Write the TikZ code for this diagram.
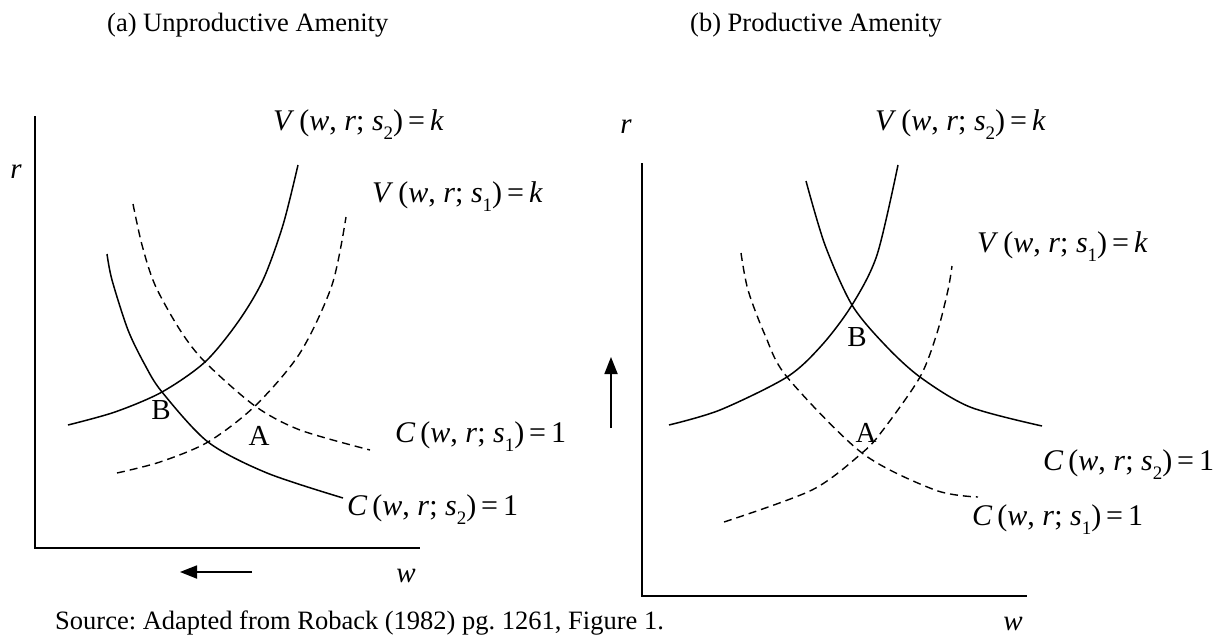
\documentclass[tikz,border=0pt]{standalone}
\usepackage{fontspec}
\setmainfont{Liberation Serif}
\usetikzlibrary{arrows.meta}
\frenchspacing
\newcommand{\fnlab}[3]{\textit{#1}\,(\textit{w}, \textit{r}; \textit{s}\raisebox{-0.3em}{\fontsize{19}{20}\selectfont #2})\,=\,#3}

\begin{document}
\begin{tikzpicture}[x=1pt,y=-1pt,>={Triangle[length=17pt,width=13pt]},
  axisline/.style={line width=1.8pt},
  curve/.style={line width=1.5pt},
  dcurve/.style={line width=1.4pt,dash pattern=on 8pt off 5pt},
  shiftarrow/.style={line width=1.8pt,->},
  eqlab/.style={anchor=west,inner sep=0pt,font=\fontsize{30}{32}\selectfont},
  ptlab/.style={inner sep=0pt,font=\fontsize{29}{32}\selectfont},
  captxt/.style={anchor=west,inner sep=0pt,font=\fontsize{26.5}{30}\selectfont}]
  \useasboundingbox (0,0) rectangle (1227,637);
  \node[captxt] (ta) at (107,25) {(a) Unproductive Amenity};
  \node[captxt] (tb) at (690,25) {(b) Productive Amenity};
  \node[captxt] (src) at (55,623) {Source: Adapted from Roback (1982) pg. 1261, Figure 1.};

  % left panel
  \coordinate (oa) at (35,548);
  \draw[axisline] (35,116) -- (oa) -- (420,548);
  \node[ptlab] (ra) at (16,172) {\textit{r}};
  \node[ptlab] (wa) at (406,576) {\textit{w}};
  \draw[curve] plot[smooth] coordinates {(68,425) (115,412) (162,392) (205,362) (238,322) (263,280) (283,225) (298,165)};
  \draw[curve] plot[smooth] coordinates {(107,254) (112,280) (128,330) (145,365) (162,392) (208,442) (267,473) (343,498)};
  \draw[dcurve] plot[smooth] coordinates {(133,204) (142,245) (155,285) (180,330) (205,362) (255,406) (300,430) (370,450)};
  \draw[dcurve] plot[smooth] coordinates {(117,473) (160,462) (208,442) (255,406) (300,353) (332,285) (346,217)};
  \node[eqlab] (va2) at (273,125) {\fnlab{V}{2}{\textit{k}}};
  \node[eqlab] (va1) at (372,197) {\fnlab{V}{1}{\textit{k}}};
  \node[eqlab] (ca1) at (395,437) {\fnlab{C}{1}{1}};
  \node[eqlab] (ca2) at (347,510) {\fnlab{C}{2}{1}};
  \node[ptlab] (Ba) at (161,410) {B};
  \node[ptlab] (Aa) at (259,436) {A};
  \coordinate (sa1) at (252,572);
  \coordinate (sa2) at (180,572);
  \draw[shiftarrow] (sa1) -- (sa2);

  % right panel
  \coordinate (ob) at (642,596);
  \draw[axisline] (642,163) -- (ob) -- (1027,596);
  \node[ptlab] (rb) at (626,127) {\textit{r}};
  \node[ptlab] (wb) at (1013,624) {\textit{w}};
  \draw[curve] plot[smooth] coordinates {(806,181) (825,245) (852,305) (885,345) (920,377) (970,407) (1042,426)};
  \draw[curve] plot[smooth] coordinates {(669,425) (720,410) (787,377) (822,345) (852,305) (877,255) (898,165)};
  \draw[dcurve] plot[smooth] coordinates {(741,253) (748,290) (765,335) (787,377) (862,453) (935,490) (978,497)};
  \draw[dcurve] plot[smooth] coordinates {(724,522) (812,490) (862,453) (883,430) (920,377) (937,333) (948,290) (952,266)};
  \node[eqlab] (vb2) at (875,125) {\fnlab{V}{2}{\textit{k}}};
  \node[eqlab] (vb1) at (977,247) {\fnlab{V}{1}{\textit{k}}};
  \node[eqlab] (cb2) at (1043,465) {\fnlab{C}{2}{1}};
  \node[eqlab] (cb1) at (972,520) {\fnlab{C}{1}{1}};
  \node[ptlab] (Bb) at (857,337) {B};
  \node[ptlab] (Ab) at (866,433) {A};
  \coordinate (sb1) at (611,428);
  \coordinate (sb2) at (611,357);
  \draw[shiftarrow] (sb1) -- (sb2);
\end{tikzpicture}
\end{document}
